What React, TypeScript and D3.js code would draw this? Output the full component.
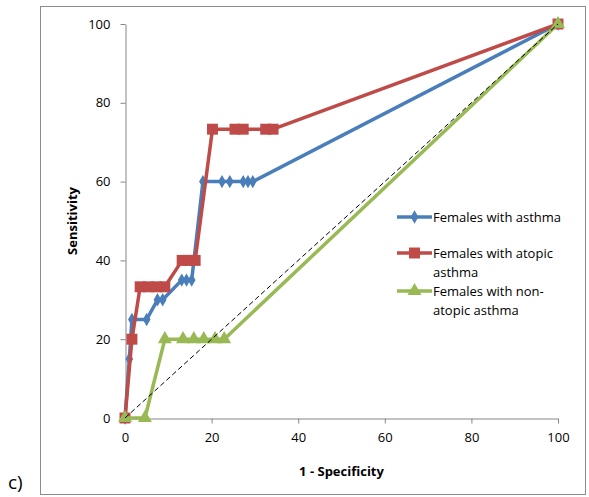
import React, { useEffect, useRef } from 'react';
import * as d3 from 'd3';

// 1 - specificity (%) and sensitivity (%)
const asthmaX = [0, 1, 1.6, 5, 7.5, 8.7, 13.1, 14.2, 15.4, 18, 22.4, 24.2, 27.3, 28.4, 29.5, 100];
const asthmaY = [0, 15, 25, 25, 30, 30, 35, 35, 35, 60, 60, 60, 60, 60, 60, 100];

const atopicX = [0, 1.6, 3.5, 5.4, 7.3, 9.2, 13.2, 14.7, 16.2, 20.2, 25.4, 27.3, 32.5, 34.2, 100];
const atopicY = [0, 20, 33.3, 33.3, 33.3, 33.3, 40, 40, 40, 73.3, 73.3, 73.3, 73.3, 73.3, 100];

const nonAtopicX = [0, 4.6, 9.2, 13.4, 15.9, 18.2, 20.8, 22.9, 100];
const nonAtopicY = [0, 0, 20, 20, 20, 20, 20, 20, 100];

const referenceX = [0, 100];
const referenceY = [0, 100];

const xTicks = [0, 20, 40, 60, 80, 100];
const yTicks = [0, 20, 40, 60, 80, 100];

const FONT = '"Open Sans", "Noto Sans", sans-serif';

export default function App() {
  const svgRef = useRef<SVGSVGElement>(null);

  useEffect(() => {
    const width = 589;
    const height = 497;
    const plot = { left: 125, right: 558, top: 24, bottom: 418 };

    const svg = d3.select(svgRef.current);
    svg.selectAll('*').remove();
    svg.attr('width', width).attr('height', height);

    svg.append('rect')
      .attr('width', width).attr('height', height)
      .attr('fill', '#fff');

    // chart frame
    svg.append('rect')
      .attr('x', 40.5).attr('y', 6.5)
      .attr('width', 545).attr('height', 488)
      .attr('fill', 'none')
      .attr('stroke', '#8c8c8c');

    const x = d3.scaleLinear().domain([0, 100]).range([plot.left, plot.right]);
    const y = d3.scaleLinear().domain([0, 100]).range([plot.bottom, plot.top]);

    const xAxis = svg.append('g')
      .attr('transform', `translate(0,${plot.bottom + 0.5})`)
      .call(d3.axisBottom(x).tickValues(xTicks).tickSize(5).tickSizeOuter(0).tickPadding(9));
    const yAxis = svg.append('g')
      .attr('transform', `translate(${plot.left + 0.5},0)`)
      .call(d3.axisLeft(y).tickValues(yTicks).tickSize(5).tickSizeOuter(0).tickPadding(10));

    [xAxis, yAxis].forEach(ax => {
      ax.selectAll('path, line').attr('stroke', '#868686');
      ax.selectAll('text')
        .attr('fill', '#000')
        .style('font-family', FONT)
        .style('font-size', '13px');
    });

    svg.append('text')
      .attr('x', (plot.left + plot.right) / 2)
      .attr('y', 476)
      .attr('text-anchor', 'middle')
      .style('font-family', FONT)
      .style('font-size', '13px')
      .style('font-weight', 'bold')
      .text('1 - Specificity');

    svg.append('text')
      .attr('transform', `translate(77,${(plot.top + plot.bottom) / 2}) rotate(-90)`)
      .attr('text-anchor', 'middle')
      .style('font-family', FONT)
      .style('font-size', '13px')
      .style('font-weight', 'bold')
      .text('Sensitivity');

    svg.append('text')
      .attr('x', 8)
      .attr('y', 489)
      .style('font-family', FONT)
      .style('font-size', '19px')
      .text('c)');

    const series = [
      { name: ['Females with asthma'], xs: asthmaX, ys: asthmaY, color: '#4a7ebb', marker: d3.symbolDiamond, size: 52, legendY: 217 },
      { name: ['Females with atopic', 'asthma'], xs: atopicX, ys: atopicY, color: '#be4b48', marker: d3.symbolSquare, size: 120, legendY: 253 },
      { name: ['Females with non-', 'atopic asthma'], xs: nonAtopicX, ys: nonAtopicY, color: '#98b954', marker: d3.symbolTriangle, size: 85, legendY: 291 },
    ];

    const line = d3.line<[number, number]>()
      .x(d => x(d[0]))
      .y(d => y(d[1]));

    series.forEach(s => {
      const pts: [number, number][] = s.xs.map((v, i) => [v, s.ys[i]]);
      svg.append('path')
        .datum(pts)
        .attr('fill', 'none')
        .attr('stroke', s.color)
        .attr('stroke-width', 3.5)
        .attr('stroke-linejoin', 'round')
        .attr('d', line);

      svg.append('g')
        .selectAll('path')
        .data(pts)
        .join('path')
        .attr('transform', d => `translate(${x(d[0])},${y(d[1])})`)
        .attr('d', d3.symbol().type(s.marker).size(s.size)())
        .attr('fill', s.color);
    });

    // chance diagonal
    svg.append('line')
      .attr('x1', x(referenceX[0])).attr('y1', y(referenceY[0]))
      .attr('x2', x(referenceX[1])).attr('y2', y(referenceY[1]))
      .attr('stroke', '#000')
      .attr('stroke-width', 1)
      .attr('stroke-dasharray', '5,3');

    // legend
    series.forEach(s => {
      const g = svg.append('g').attr('transform', `translate(397,${s.legendY})`);
      g.append('line')
        .attr('x1', 0).attr('x2', 35)
        .attr('stroke', s.color)
        .attr('stroke-width', 3.5);
      g.append('path')
        .attr('transform', 'translate(17.5,0)')
        .attr('d', d3.symbol().type(s.marker).size(s.size)())
        .attr('fill', s.color);
      s.name.forEach((t, i) => {
        g.append('text')
          .attr('x', 36)
          .attr('y', 4.5 + i * 19)
          .style('font-family', FONT)
          .style('font-size', '13px')
          .text(t);
      });
    });
  }, []);

  return (
    <div style={{ position: 'absolute', left: 0, top: 0 }}>
      <svg ref={svgRef}></svg>
    </div>
  );
}
